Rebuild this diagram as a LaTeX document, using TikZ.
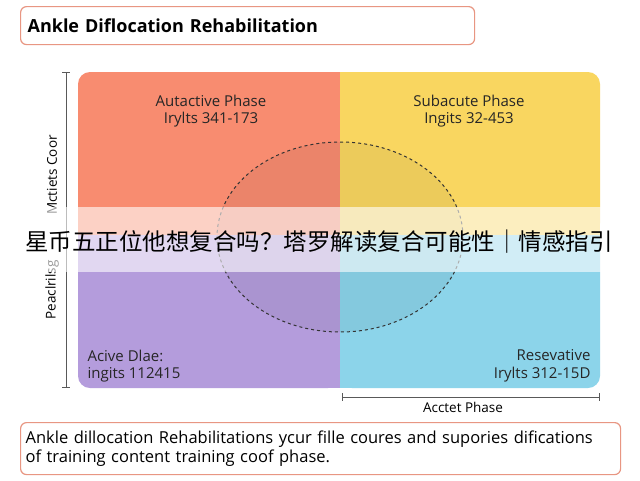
\documentclass[tikz,border=0pt]{standalone}
\usepackage{fontspec}
\setmainfont{Open Sans}
\newfontfamily\cjk{Noto Sans CJK SC}
\definecolor{qa}{RGB}{248,140,112}
\definecolor{qb}{RGB}{249,214,96}
\definecolor{qc}{RGB}{180,156,220}
\definecolor{qd}{RGB}{140,212,234}
\definecolor{bd}{RGB}{232,150,130}
\begin{document}
\begin{tikzpicture}[x=1pt,y=-1pt,
  box/.style={draw=#1,line width=1.2pt,rounded corners=6pt,fill=white},
  qlabel/.style={font=\fontsize{15}{17.5}\selectfont,align=center,text=black!85},
  axis/.style={draw=black!65,line width=0.8pt,|-|}]
\useasboundingbox (0,0) rectangle (640,480);
\fill[white] (0,0) rectangle (640,480);
\node[box=bd,minimum width=454pt,minimum height=38pt,anchor=north west,text width=440pt,align=left,font=\bfseries\fontsize{18}{20}\selectfont] (title) at (20,6) {Ankle Diflocation Rehabilitation};
% quadrants
\fill[qa, rounded corners=12pt] (78,72) -- (340,72) -- (340,235) -- (78,235) -- cycle;
\fill[qb, rounded corners=12pt] (340,72) -- (600,72) -- (600,235) -- (340,235) -- cycle;
\fill[qc, rounded corners=12pt] (78,235) -- (340,235) -- (340,388) -- (78,388) -- cycle;
\fill[qd, rounded corners=12pt] (340,235) -- (600,235) -- (600,388) -- (340,388) -- cycle;
\fill[qa] (300,72) rectangle (340,235);
\fill[qb] (340,72) rectangle (380,235);
\fill[qc] (78,235) rectangle (340,250);
\fill[qd] (340,235) rectangle (600,250);
\fill[qa] (78,200) rectangle (340,235);
\fill[qb] (340,200) rectangle (600,235);
\fill[qc] (300,235) rectangle (340,388);
\fill[qd] (340,235) rectangle (380,388);
\fill[black,opacity=0.05] (340,237) ellipse [x radius=123, y radius=95];
\draw[dashed,line width=1pt,black!80] (340,237) ellipse [x radius=123, y radius=95];
\node[qlabel] (q1) at (211,111) {Autactive Phase\\Irylts 341-173};
\node[qlabel] (q2) at (469,111) {Subacute Phase\\Ingits 32-453};
\node[qlabel,align=left,anchor=west] (q3) at (84,366) {Acive Dlae:\\ingits 112415};
\node[qlabel,align=right,anchor=east] (q4) at (594,366) {Resevative\\Irylts 312-15D};
% axes
\draw[axis] (66,72) -- (66,388);
\node[rotate=90,font=\fontsize{13.5}{15}\selectfont] (ya) at (52,175) {Mctiets Coor};
\node[rotate=90,font=\fontsize{13.5}{15}\selectfont] (yb) at (52,290) {Peaclrilsg};
\draw[axis] (342,397) -- (600,397);
\node[font=\fontsize{13.5}{15}\selectfont] (xa) at (463,407) {Acctet Phase};
% banner
\fill[white,opacity=0.6] (0,207) rectangle (640,272);
\node[font=\cjk\fontsize{23.5}{26}\selectfont] (ban) at (319,242) {星币五正位他想复合吗？塔罗解读复合可能性｜情感指引};
% bottom box
\node[box=bd,minimum width=600pt,minimum height=52pt,anchor=north west,text width=590pt,align=left,font=\fontsize{16.5}{19}\selectfont] (desc) at (20,422) {Ankle dillocation Rehabilitations ycur fille coures and supories difications\\of training content training coof phase.};
\end{tikzpicture}
\end{document}
